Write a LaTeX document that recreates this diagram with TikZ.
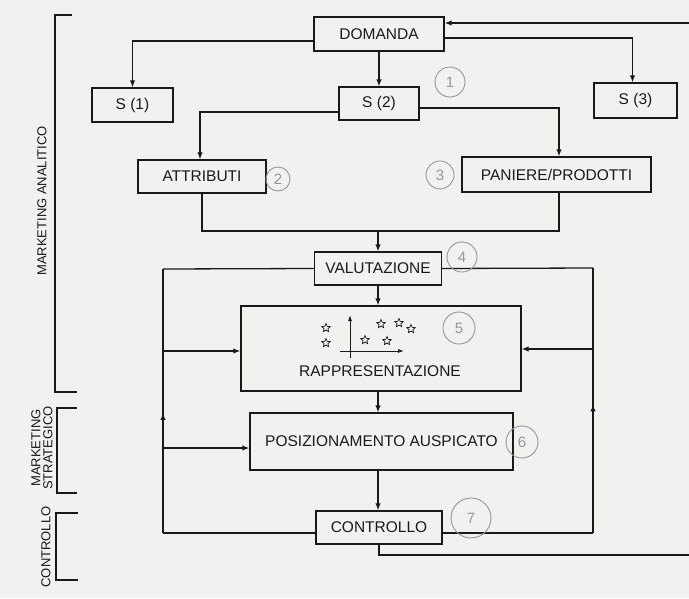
\documentclass[tikz,border=0pt]{standalone}
\usepackage{fontspec}
\setmainfont{Liberation Sans}
\usetikzlibrary{arrows.meta,shapes.geometric,decorations.markings}
\definecolor{paper}{RGB}{241,241,239}
\definecolor{ink}{RGB}{25,25,25}
\definecolor{pencil}{RGB}{150,150,150}
\tikzset{
  box/.style={draw=ink, line width=1.3pt, inner sep=0pt, text=ink, font=\fontsize{15.5}{18}\selectfont},
  conn/.style={draw=ink, line width=1.3pt},
  arr/.style={conn, -{Latex[length=7pt,width=5.5pt]}},
  midarrow/.style={conn, postaction={decorate}, decoration={markings, mark=at position #1 with {\arrow{Latex[length=7pt,width=5.5pt]}}}},
  side/.style={text=ink, font=\fontsize{13}{12}\selectfont, rotate=90, align=center, inner sep=0pt},
  hand/.style={draw=pencil, circle, text=pencil, line width=0.9pt, inner sep=0pt, font=\fontsize{15}{15}\selectfont},
  starn/.style={star, star points=5, star point ratio=2.2, draw=ink, line width=0.7pt, minimum size=9pt, inner sep=0pt},
  brk/.style={draw=ink, line width=1.3pt},
}
\begin{document}
\begin{tikzpicture}[x=1pt, y=-1pt]
\fill[paper] (0,0) rectangle (689,598);
\useasboundingbox (0,0) rectangle (689,598);

% boxes
\node[box, minimum width=130pt, minimum height=34pt] (dom) at (379,34) {DOMANDA};
\node[box, minimum width=81pt, minimum height=34pt] (s1) at (132.5,105) {S (1)};
\node[box, minimum width=80pt, minimum height=33pt] (s2) at (379,103.5) {S (2)};
\node[box, minimum width=83pt, minimum height=35pt] (s3) at (635.5,100.5) {S (3)};
\node[box, minimum width=128pt, minimum height=33pt] (attr) at (202,176.5) {ATTRIBUTI};
\node[box, minimum width=189pt, minimum height=35pt] (pan) at (556.5,174.5) {PANIERE/PRODOTTI};
\node[box, minimum width=127pt, minimum height=33pt] (val) at (378,268.5) {VALUTAZIONE};
\node[box, minimum width=280pt, minimum height=85pt] (rep) at (381,348.5) {};
\node[text=ink, font=\fontsize{15.5}{18}\selectfont, inner sep=0pt] (reptext) at (380,371) {RAPPRESENTAZIONE};
\node[box, minimum width=263pt, minimum height=57pt] (pos) at (381.5,441.5) {POSIZIONAMENTO AUSPICATO};
\node[box, minimum width=126pt, minimum height=33pt] (ctrl) at (379,527.5) {CONTROLLO};

% chart inside RAPPRESENTAZIONE
\coordinate (ax0) at (350,358);
\coordinate (ax1) at (350,315);
\coordinate (ay0) at (340,351);
\coordinate (ay1) at (404,351);
\draw[conn, line width=0.9pt, -{Latex[length=6pt,width=4pt]}] (ax0) -- (ax1);
\draw[conn, line width=0.9pt, -{Latex[length=6pt,width=4pt]}] (ay0) -- (ay1);
\node[starn] (st1) at (326,328) {};
\node[starn] (st2) at (326,343) {};
\node[starn] (st3) at (365,340) {};
\node[starn] (st4) at (387,341) {};
\node[starn] (st5) at (381,324) {};
\node[starn] (st6) at (399,323) {};
\node[starn] (st7) at (411,329) {};

% connectors top
\coordinate (rt) at (689,23);
\coordinate (rb) at (689,555);
\draw[arr] (rt) -- ([yshift=11pt]dom.east);
\draw[arr] ([yshift=-7pt]dom.west) -| (s1.north);
\draw[arr] (dom.south) -- (s2.north);
\draw[arr] ([yshift=-4pt]dom.east) -| ([xshift=-3pt]s3.north);
\draw[arr] ([yshift=-8.5pt]s2.west) -| ([xshift=-2pt]attr.north);
\draw[arr] ([yshift=-4.5pt]s2.east) -| ([xshift=2.5pt]pan.north);
\coordinate (j) at (378,231);
\draw[conn] (attr.south) |- (j) -| ([xshift=2.5pt]pan.south);
\draw[arr] (j) -- (val.north);
\draw[arr] (val.south) -- (val.south |- rep.north);
\draw[arr] (rep.south -| val.south) -- (pos.north -| val.south);
\draw[arr] (pos.south -| val.south) -- (ctrl.north -| val.south);

% feedback loops
\coordinate (lt) at (163,269);
\coordinate (lb) at (163,533);
\coordinate (lm) at (163,351);
\coordinate (lp) at (163,448);
\coordinate (rtt) at (593,268);
\coordinate (rbb) at (593,533);
\coordinate (rm) at (593,349);
\draw[conn] (val.west) -- (lt);
\draw[midarrow=0.455] (lb) -- (lt);
\draw[conn] ([yshift=-5.5pt]ctrl.west) -- (lb);
\draw[arr] (lm) -- (lm -| rep.west);
\draw[arr] (lp) -- (lp -| pos.west);
\draw[conn] (val.east) -- (rtt);
\draw[midarrow=0.485] (rbb) -- (rtt);
\draw[conn] ([yshift=-5.5pt]ctrl.east) -- (rbb);
\draw[arr] (rm) -- (rm -| rep.east);
\draw[conn] (ctrl.south) |- (rb);

% side brackets and labels
\draw[brk] (72,15) -- (55,15) -- (55,392) -- (77,392);
\draw[brk] (77,408) -- (57,408) -- (57,493) -- (77,493);
\draw[brk] (78,513) -- (56,513) -- (56,580) -- (78,580);
\node[side] (lana) at (42,201) {MARKETING ANALITICO};
\node[side] (lstr) at (42,448) {MARKETING\\STRATEGICO};
\node[side] (lctl) at (46,547) {CONTROLLO};

% handwritten circled numbers
\node[hand, minimum size=30pt] (h1) at (450,82) {1};
\node[hand, minimum size=24pt] (h2) at (278,179) {2};
\node[hand, minimum size=28pt] (h3) at (440,175) {3};
\node[hand, minimum size=30pt] (h4) at (462,257) {4};
\node[hand, minimum size=32pt] (h5) at (459,328) {5};
\node[hand, minimum size=32pt] (h6) at (522,442) {6};
\node[hand, minimum size=40pt] (h7) at (471,518) {7};
\end{tikzpicture}
\end{document}
